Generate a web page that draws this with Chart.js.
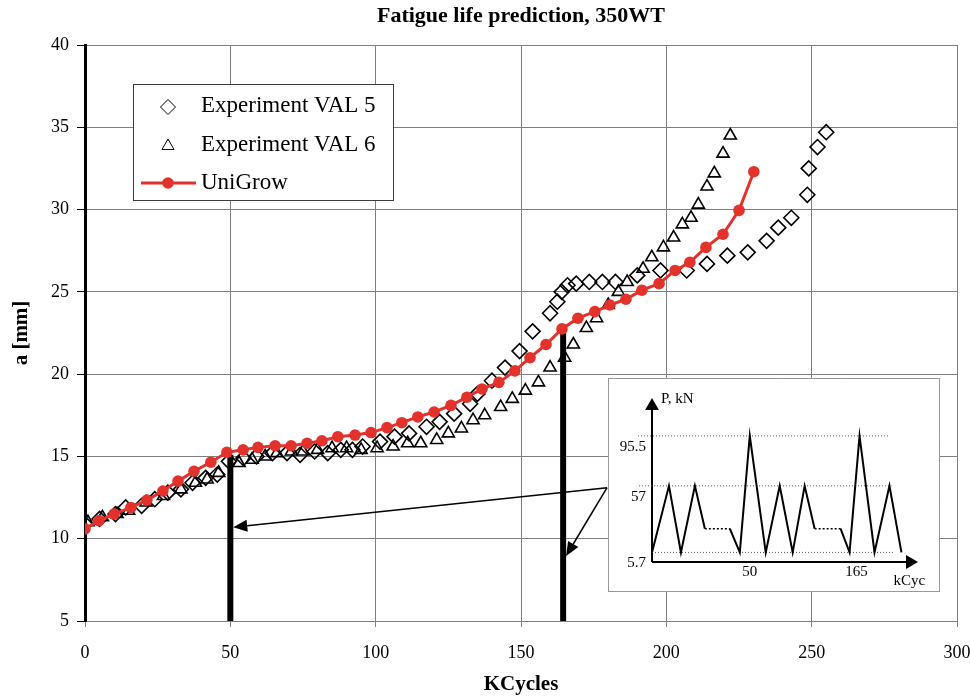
<!DOCTYPE html>
<html>
<head>
<meta charset="utf-8">
<script src="https://cdn.jsdelivr.net/npm/chart.js@4.4.1/dist/chart.umd.min.js"></script>
<style>
  body { margin: 0; background: #fff; }
  #wrap { position: relative; width: 970px; height: 698px; }
  canvas { display: block; }
  #inset { position: absolute; }
</style>
</head>
<body>
<div id="wrap">
  <canvas id="main" width="970" height="698"></canvas>
  <canvas id="inset" width="332" height="214"></canvas>
</div>
<script>
// crack length a [mm] vs kilocycles
const val5X = [0, 5, 10.5, 14, 19.5, 24, 28.5, 33, 37, 41.5, 45.5, 49.5, 54.5, 59, 64.5, 69.5, 74, 79, 83.5, 88,
  92, 95.5, 101.5, 106.5, 111.5, 117.5, 122, 127, 132.5, 135, 140, 144.5, 149.5, 154, 160, 162.5, 164, 166, 169, 173.5,
  178, 182.5, 190, 198, 207, 214, 221, 228, 234.5, 238.5, 243, 248.5, 249, 252, 255];
const val5Y = [10.9, 11.2, 11.5, 11.9, 12.0, 12.4, 12.8, 13.0, 13.4, 13.7, 13.9, 14.7, 14.9, 15.0, 15.2, 15.2, 15.1, 15.3, 15.2, 15.4,
  15.4, 15.6, 15.9, 16.2, 16.4, 16.8, 17.1, 17.6, 18.2, 18.8, 19.6, 20.4, 21.4, 22.6, 23.7, 24.4, 25.0, 25.4, 25.5, 25.6,
  25.6, 25.6, 26.0, 26.3, 26.3, 26.7, 27.2, 27.4, 28.1, 28.9, 29.5, 30.9, 32.5, 33.8, 34.7];

const val6X = [1, 6, 11, 15, 21, 27, 33, 38, 42, 46, 53, 57.5, 62, 66, 71, 75, 80, 85, 90, 95,
  100.5, 106, 111, 115.5, 121, 125, 129.5, 133.5, 137.5, 143, 147, 151.5, 156, 160, 165, 168, 172.5, 176, 180, 183.5,
  186.5, 192, 195, 199, 202.5, 205.5, 208.5, 211, 214, 216.5, 219.5, 222];
const val6Y = [11.0, 11.3, 11.5, 11.7, 12.2, 12.6, 13.0, 13.4, 13.6, 14.0, 14.6, 14.8, 15.0, 15.2, 15.3, 15.3, 15.4, 15.5, 15.5, 15.4,
  15.5, 15.6, 15.8, 15.8, 16.0, 16.4, 16.7, 17.2, 17.5, 18.0, 18.5, 19.0, 19.5, 20.4, 21.0, 21.8, 22.8, 23.4, 24.2, 25.0,
  25.6, 26.4, 27.1, 27.7, 28.3, 29.1, 29.5, 30.3, 31.4, 32.2, 33.4, 34.5];

const uniX = [0, 4.8, 10, 15.8, 21.3, 26.8, 32, 37.5, 43.3, 48.8, 54.4, 59.5, 65.4, 70.9, 76.4, 81.5, 87, 92.9, 98.4, 103.9,
  109, 114.5, 120.1, 125.9, 131.4, 136.6, 142.4, 147.9, 153.1, 158.6, 164.1, 169.6, 175.4, 180.6, 186.1, 191.6, 197.5, 203, 208.1, 213.6,
  219.5, 225, 230.1];
const uniY = [10.6, 11.1, 11.5, 11.9, 12.35, 12.9, 13.5, 14.1, 14.65, 15.25, 15.4, 15.55, 15.65, 15.65, 15.8, 15.95, 16.2, 16.3, 16.45, 16.75,
  17.05, 17.4, 17.7, 18.1, 18.6, 19.1, 19.5, 20.2, 21.0, 21.8, 22.75, 23.4, 23.8, 24.2, 24.55, 25.1, 25.5, 26.3, 26.8, 27.7,
  28.5, 29.95, 32.3];

// markers for the two overload positions
const barX = [50, 164.5];
const barTop = [15.1, 23.0];
const arrowFrom = [179.6, 13.1];
const arrowToX = [51.0, 165.5];
const arrowToY = [10.7, 8.95];

// inset: load spectrum sketch
const insetBox = [179.8, 294.1, 6.75, 19.75]; // x0, x1, y0, y1 in main axes units
const specT = [0, 17, 29, 43, 53, 78, 88, 98, 114, 128, 141, 153, 163, 189, 198, 208, 223, 238, 250];
const specP = [5.7, 57, 5.7, 57, 24, 24, 5.7, 95.5, 5.7, 57, 5.7, 57, 24, 24, 5.7, 95.5, 5.7, 57, 5.7];
const levels = [95.5, 57, 5.7];
const levelLabels = ['95.5', '57', '5.7'];
const levelFrom = [-14, -13, 0];
const levelTo = [238, 240, 242];
const insetTickT = [98, 205];
const insetTickLabels = ['50', '165'];

const RED = '#e2322b';
const SERIF = "'Liberation Serif', 'Times New Roman', serif";

function pts(xs, ys) {
  return xs.map((x, i) => ({ x: x, y: ys[i] }));
}

const legendPlugin = {
  id: 'boxLegend',
  afterDraw(chart) {
    const ctx = chart.ctx;
    ctx.save();
    ctx.fillStyle = '#fff';
    ctx.fillRect(133, 84, 261, 117);
    ctx.strokeStyle = '#3c3c3c';
    ctx.lineWidth = 1;
    ctx.strokeRect(133.5, 84.5, 260, 116);
    const rows = [106, 145, 183];
    const items = chart.data.datasets.filter(d => d.inLegend);
    items.sort((a, b) => a.legendRow - b.legendRow);
    items.forEach((ds, i) => {
      const y = rows[i];
      if (ds.showLine) {
        ctx.strokeStyle = ds.borderColor;
        ctx.lineWidth = 3;
        ctx.beginPath();
        ctx.moveTo(141, y);
        ctx.lineTo(196, y);
        ctx.stroke();
      }
      ctx.strokeStyle = ds.pointBorderColor;
      ctx.fillStyle = ds.pointBackgroundColor;
      Chart.helpers.drawPoint(ctx, {
        pointStyle: ds.pointStyle, radius: ds.pointRadius,
        borderWidth: ds.pointBorderWidth, rotation: 0
      }, 168, y + (ds.showLine ? 0 : 1));
      ctx.fillStyle = '#000';
      ctx.font = '23px ' + SERIF;
      ctx.textAlign = 'left';
      ctx.textBaseline = 'middle';
      ctx.fillText(ds.label, 201, y);
    });
    ctx.restore();
  }
};

const arrowPlugin = {
  id: 'arrows',
  afterDatasetsDraw(chart) {
    const { ctx, scales: { x, y } } = chart;
    const x0 = x.getPixelForValue(arrowFrom[0]);
    const y0 = y.getPixelForValue(arrowFrom[1]);
    ctx.save();
    ctx.strokeStyle = '#000';
    ctx.fillStyle = '#000';
    ctx.lineWidth = 1.5;
    arrowToX.forEach((v, i) => {
      const x1 = x.getPixelForValue(v);
      const y1 = y.getPixelForValue(arrowToY[i]);
      const a = Math.atan2(y1 - y0, x1 - x0);
      const len = 14, half = 6;
      const bx = x1 - len * Math.cos(a), by = y1 - len * Math.sin(a);
      ctx.beginPath();
      ctx.moveTo(x0, y0);
      ctx.lineTo(bx, by);
      ctx.stroke();
      ctx.beginPath();
      ctx.moveTo(x1, y1);
      ctx.lineTo(bx + half * Math.sin(a), by - half * Math.cos(a));
      ctx.lineTo(bx - half * Math.sin(a), by + half * Math.cos(a));
      ctx.closePath();
      ctx.fill();
    });
    ctx.restore();
  }
};

const barSets = barX.map((bx, i) => ({
  label: 'bar' + i,
  data: [{ x: bx, y: 5 }, { x: bx, y: barTop[i] }],
  showLine: true,
  borderColor: '#000',
  borderWidth: 6,
  borderCapStyle: 'butt',
  pointRadius: 0,
  order: 1
}));

const mainChart = new Chart(document.getElementById('main'), {
  type: 'scatter',
  data: {
    datasets: [
      {
        label: 'UniGrow', inLegend: true, legendRow: 2,
        data: pts(uniX, uniY),
        showLine: true,
        borderColor: RED, borderWidth: 3,
        pointStyle: 'circle', pointRadius: 5.8,
        pointBackgroundColor: RED, pointBorderColor: RED, pointBorderWidth: 0,
        order: 0
      },
      ...barSets,
      {
        label: 'Experiment VAL 6', inLegend: true, legendRow: 1,
        data: pts(val6X, val6Y),
        showLine: false,
        pointStyle: 'triangle', pointRadius: 7,
        pointBackgroundColor: 'rgba(0,0,0,0)', pointBorderColor: '#000', pointBorderWidth: 1.6,
        order: 2
      },
      {
        label: 'Experiment VAL 5', inLegend: true, legendRow: 0,
        data: pts(val5X, val5Y),
        showLine: false,
        pointStyle: 'rectRot', pointRadius: 7.5,
        pointBackgroundColor: 'rgba(0,0,0,0)', pointBorderColor: '#000', pointBorderWidth: 1.6,
        order: 3
      }
    ]
  },
  options: {
    responsive: false,
    animation: false,
    layout: { padding: { left: 0, right: 13, top: 0, bottom: 0 } },
    plugins: {
      legend: { display: false },
      tooltip: { enabled: false },
      title: {
        display: true,
        fullSize: false,
        text: 'Fatigue life prediction, 350WT',
        color: '#000',
        font: { family: SERIF, size: 22, weight: 'bold' },
        padding: { top: 3, bottom: 15.6 }
      }
    },
    scales: {
      x: {
        type: 'linear', min: 0, max: 300,
        ticks: { stepSize: 50, color: '#000', font: { family: SERIF, size: 18 }, padding: 15 },
        grid: { color: '#808080', tickColor: '#808080', tickLength: 6 },
        border: { color: '#808080' },
        title: {
          display: true, text: 'KCycles', color: '#000',
          font: { family: SERIF, size: 21, weight: 'bold' },
          padding: { top: 0, bottom: 1 }
        },
        afterFit(s) { s.height = 77; s.paddingLeft = 0; s.paddingRight = 0; }
      },
      y: {
        type: 'linear', min: 5, max: 40,
        ticks: { stepSize: 5, color: '#000', font: { family: SERIF, size: 18 }, padding: 8 },
        grid: { color: '#808080', tickColor: '#000', tickLength: 8 },
        border: { color: '#000', width: 3 },
        title: {
          display: true, text: 'a [mm]', color: '#000',
          font: { family: SERIF, size: 21, weight: 'bold' },
          padding: { top: 9, bottom: 0 }
        },
        afterFit(s) { s.width = 85; s.paddingTop = 0; s.paddingBottom = 0; }
      }
    }
  },
  plugins: [arrowPlugin, legendPlugin]
});

// place the inset over the plot
const sx = mainChart.scales.x, sy = mainChart.scales.y;
const boxL = Math.round(sx.getPixelForValue(insetBox[0]));
const boxR = Math.round(sx.getPixelForValue(insetBox[1]));
const boxT = Math.round(sy.getPixelForValue(insetBox[3]));
const boxB = Math.round(sy.getPixelForValue(insetBox[2]));
const insetCanvas = document.getElementById('inset');
insetCanvas.style.left = boxL + 'px';
insetCanvas.style.top = boxT + 'px';
insetCanvas.width = boxR - boxL;
insetCanvas.height = boxB - boxT;

const pMin = -1.7, pMax = 124.7, tMax = 266.6;

const insetDeco = {
  id: 'insetDeco',
  beforeDraw(chart) {
    const ctx = chart.ctx;
    ctx.save();
    ctx.fillStyle = '#fff';
    ctx.fillRect(0, 0, chart.width, chart.height);
    ctx.strokeStyle = '#333';
    ctx.lineWidth = 1;
    ctx.setLineDash([1, 1]);
    ctx.strokeRect(0.5, 0.5, chart.width - 1, chart.height - 1);
    ctx.restore();
  },
  afterDraw(chart) {
    const { ctx, scales: { x, y } } = chart;
    ctx.save();
    ctx.fillStyle = '#000';
    ctx.font = '15px ' + SERIF;
    ctx.textBaseline = 'middle';
    ctx.textAlign = 'left';
    ctx.fillText('P, kN', x.getPixelForValue(0) + 9, y.getPixelForValue(pMax) + 1);
    ctx.textAlign = 'right';
    levels.forEach((lv, i) => {
      ctx.fillText(levelLabels[i], x.getPixelForValue(-6), y.getPixelForValue(lv) + 11);
    });
    ctx.textAlign = 'center';
    insetTickT.forEach((t, i) => {
      ctx.fillText(insetTickLabels[i], x.getPixelForValue(t), y.getPixelForValue(pMin) + 10);
    });
    ctx.fillText('kCyc', x.getPixelForValue(258), y.getPixelForValue(pMin) + 19);
    ctx.restore();
  }
};

new Chart(insetCanvas, {
  type: 'scatter',
  data: {
    datasets: [
      {
        data: pts(specT, specP),
        showLine: true, borderColor: '#000', borderWidth: 2, pointRadius: 0, clip: false,
        segment: {
          borderDash: c => c.p0.parsed.y === c.p1.parsed.y ? [2, 2] : undefined,
          borderWidth: c => c.p0.parsed.y === c.p1.parsed.y ? 1.5 : undefined
        }
      },
      ...levels.map((lv, i) => ({
        data: [{ x: levelFrom[i], y: lv }, { x: levelTo[i], y: lv }],
        showLine: true, borderColor: '#555', borderWidth: 1, borderDash: [1, 2],
        pointRadius: 0, clip: false
      })),
      {
        data: [{ x: 0, y: pMin }, { x: 0, y: 118.5 }],
        showLine: true, borderColor: '#000', borderWidth: 2, clip: false,
        pointStyle: 'triangle', pointRadius: [0, 8], pointRotation: 0,
        pointBackgroundColor: '#000', pointBorderWidth: 0
      },
      {
        data: [{ x: 0, y: pMin }, { x: 258.6, y: pMin }],
        showLine: true, borderColor: '#000', borderWidth: 2, clip: false,
        pointStyle: 'triangle', pointRadius: [0, 8], pointRotation: 90,
        pointBackgroundColor: '#000', pointBorderWidth: 0
      }
    ]
  },
  options: {
    responsive: false,
    animation: false,
    layout: { padding: { left: 44, right: 22, top: 20, bottom: 30 } },
    plugins: { legend: { display: false }, tooltip: { enabled: false } },
    scales: {
      x: { type: 'linear', display: false, min: 0, max: tMax },
      y: { type: 'linear', display: false, min: pMin, max: pMax }
    }
  },
  plugins: [insetDeco]
});
</script>
</body>
</html>
